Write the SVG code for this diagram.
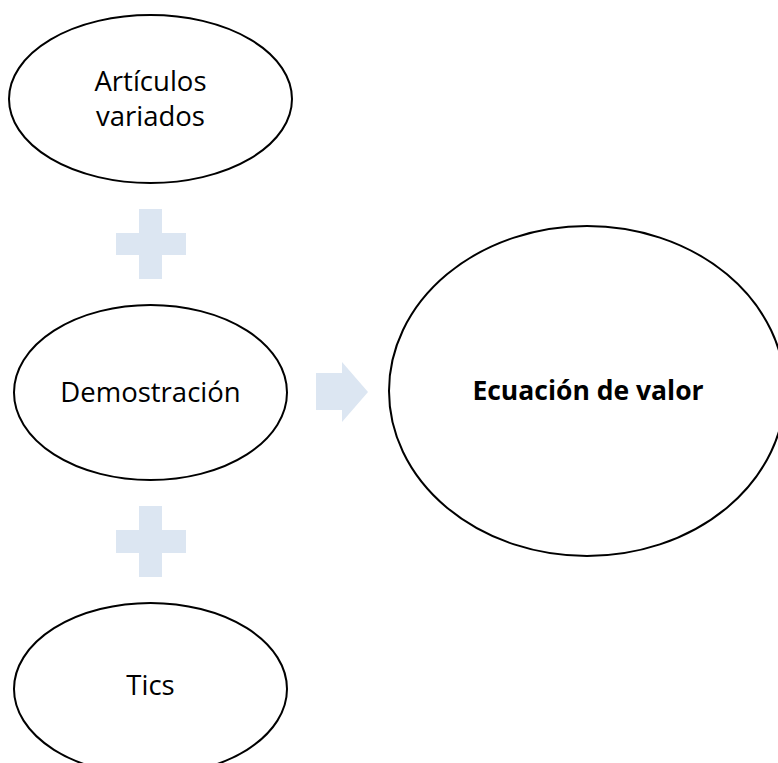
<svg xmlns="http://www.w3.org/2000/svg" width="778" height="763" viewBox="0 0 778 763">
<style>
.node{fill:#ffffff;stroke:#000000;stroke-width:2}
.lbl{font-family:"Open Sans","Noto Sans",sans-serif;font-size:27.5px;fill:#000000;text-anchor:middle}
.bold{font-weight:bold;font-size:26.5px}
.conn{fill:#dce6f2;stroke:none}
</style>
<rect width="778" height="763" fill="#ffffff"/>
<g id="connectors">
<path class="conn" d="M139,209 H162 V233 H186 V255 H162 V279 H139 V255 H116 V233 H139 Z"/>
<path class="conn" d="M139,506 H162 V530 H186 V553 H162 V577 H139 V553 H116 V530 H139 Z"/>
<path class="conn" d="M316,373 H342 V362 L368,392 L342,422 V410 H316 Z"/>
</g>
<g id="articulos">
<ellipse class="node" cx="150.5" cy="99" rx="141.5" ry="84"/>
<text class="lbl" x="150.5" y="91">Artículos</text>
<text class="lbl" x="150.5" y="126">variados</text>
</g>
<g id="demostracion">
<ellipse class="node" cx="150.5" cy="392.5" rx="136.5" ry="87.5"/>
<text class="lbl" x="150.5" y="402">Demostración</text>
</g>
<g id="tics">
<ellipse class="node" cx="150.5" cy="689" rx="136.5" ry="86"/>
<text class="lbl" x="150.5" y="695">Tics</text>
</g>
<g id="ecuacion">
<ellipse class="node" cx="587" cy="391" rx="198" ry="165"/>
<text class="lbl bold" x="588" y="400">Ecuación de valor</text>
</g>
</svg>
